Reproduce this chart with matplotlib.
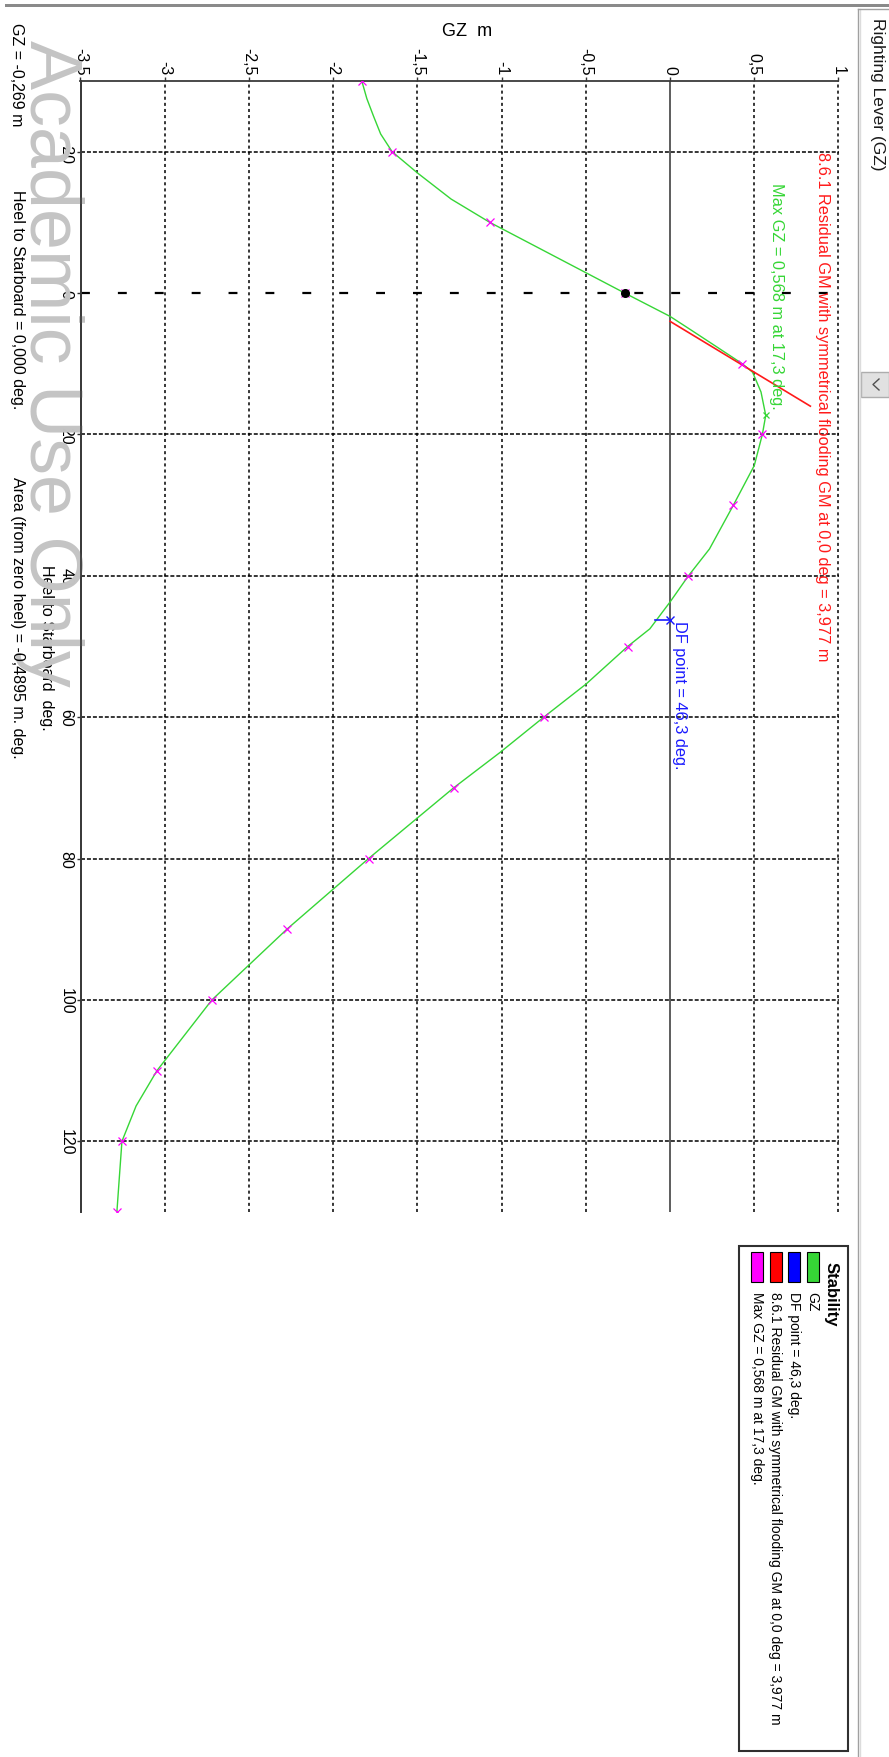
#!/usr/bin/env python3
"""Righting lever (GZ) curve, drawn in the rotated page layout of the stability report."""

import numpy as np
import matplotlib

matplotlib.use("Agg")
import matplotlib.pyplot as plt
from matplotlib.lines import Line2D
from matplotlib.patches import Rectangle

W, H = 889, 1758

# GZ at the tabulated heel stations (deg -> m)
HEEL_STATIONS = [-30, -20, -10, 0, 10, 20, 30, 40, 50, 60, 70, 80, 90, 100, 110, 120, 130]
GZ_STATIONS = [-1.83, -1.65, -1.07, -0.269, 0.429, 0.548, 0.376, 0.109, -0.252, -0.75,
               -1.285, -1.79, -2.275, -2.72, -3.046, -3.254, -3.284]

# extra points along the curve between stations
HEEL_EXTRA = [-27.5, -25, -22.5, -17, -13.3, 3.3, 5, 7.5, 11.2, 14, 17.3, 24.4, 36.2, 43.7,
              47.5, 55.3, 65, 115, 125.3]
GZ_EXTRA = [-1.80, -1.76, -1.718, -1.50, -1.30, 0.0, 0.11, 0.27, 0.49, 0.54, 0.568, 0.50,
            0.234, 0.0, -0.12, -0.498, -1.01, -3.17, -3.27]

MAX_HEEL, MAX_GZ = 17.3, 0.568
EQ_HEEL, EQ_GZ = 0.0, -0.269
DF_HEEL, DF_GZ = 46.3, -0.09
GM, GM_FROM, GM_TO = 3.977, 4.0, 16.0
AREA = -0.4895

GZ_TICKS = [-3.5, -3, -2.5, -2, -1.5, -1, -0.5, 0, 0.5, 1]
HEEL_TICKS = [-20, 0, 20, 40, 60, 80, 100, 120]

GREEN = "#36d636"
MAGENTA = "#ff00ff"
RED = "#ff1a1a"
BLUE = "#1a1aff"


def comma(v):
    return f"{v:g}".replace(".", ",")


def at(x, y):
    return x / W, 1 - y / H


def box(fig, x0, y0, x1, y1, **kw):
    fig.add_artist(Rectangle((x0 / W, 1 - y1 / H), (x1 - x0) / W, (y1 - y0) / H,
                             transform=fig.transFigure, **kw))


def pxline(fig, xs, ys, **kw):
    fig.add_artist(Line2D([x / W for x in xs], [1 - y / H for y in ys],
                          transform=fig.transFigure, **kw))


def vtext(fig, x, y, s, **kw):
    kw.setdefault("ha", "left")
    kw.setdefault("va", "center")
    return fig.text(*at(x, y), s, rotation=270, rotation_mode="anchor", **kw)


def main():
    plt.rcParams["font.family"] = ["Liberation Sans", "DejaVu Sans"]

    fig = plt.figure(figsize=(W / 100, H / 100), dpi=100)
    fig.patch.set_facecolor("white")

    left, right, top, bottom = 80.5, 838.5, 82, 1213
    ax = fig.add_axes([left / W, 1 - bottom / H, (right - left) / W, (bottom - top) / H])
    ax.set_facecolor("none")
    ax.set_xlim(-3.5, 1)
    ax.set_ylim(130, -30)

    for side in ("right", "bottom"):
        ax.spines[side].set_visible(False)
    for side in ("left", "top"):
        ax.spines[side].set_color("#3a3a3a")
        ax.spines[side].set_linewidth(1.3)

    ax.xaxis.tick_top()
    ax.set_xticks(GZ_TICKS)
    ax.set_xticklabels([comma(v) for v in GZ_TICKS], rotation=270)
    ax.set_yticks(HEEL_TICKS)
    ax.set_yticklabels([comma(v) for v in HEEL_TICKS], rotation=270, va="center")
    ax.tick_params(direction="out", length=3, width=1, color="#333333",
                   labelsize=11.5, labelcolor="black", pad=2)

    # grid: dashed verticals, dotted horizontals, special zero lines
    for g in GZ_TICKS[1:]:
        if g == 0:
            ax.axvline(g, color="#505050", lw=1.3, zorder=1)
        else:
            ax.axvline(g, color="black", lw=1.1, dashes=(2.0, 2.0), zorder=1)
    for h in HEEL_TICKS:
        if h == 0:
            ax.axhline(h, color="black", lw=1.6, dashes=(4.0, 12.6), zorder=1)
        else:
            ax.axhline(h, color="black", lw=1.1, dashes=(2.6, 1.3), zorder=1)

    # GZ curve
    pts = sorted(zip(HEEL_STATIONS + HEEL_EXTRA, GZ_STATIONS + GZ_EXTRA))
    heel_c = [p[0] for p in pts]
    gz_c = [p[1] for p in pts]
    ax.plot(gz_c, heel_c, color=GREEN, lw=1.0, zorder=3)
    ax.plot(GZ_STATIONS, HEEL_STATIONS, ls="none", marker="x", color=MAGENTA,
            ms=5.5, mew=0.9, zorder=4)

    # residual GM tangent
    gm_heel = np.array([GM_FROM, GM_TO])
    gm_gz = GM * np.radians(gm_heel - GM_FROM)
    ax.plot(gm_gz, gm_heel, color=RED, lw=1.2, zorder=3)

    # max GZ
    ax.plot([MAX_GZ], [MAX_HEEL], ls="none", marker="x", color=GREEN, ms=4.5, mew=0.9, zorder=4)

    # equilibrium point
    ax.plot([EQ_GZ], [EQ_HEEL], ls="none", marker="o", color="black", ms=5.5, zorder=5)

    # downflooding point
    ax.plot([DF_GZ, 0], [DF_HEEL, DF_HEEL], color=BLUE, lw=1.2, zorder=4)
    ax.plot([0], [DF_HEEL], ls="none", marker="x", color=BLUE, ms=5.5, mew=1.0, zorder=5)

    tkw = dict(rotation=270, rotation_mode="anchor", va="center", fontsize=11.8, zorder=6)
    ax.text(0.905, -20.1, f"8.6.1 Residual GM with symmetrical flooding GM at 0,0 deg = {comma(GM)} m",
            color=RED, ha="left", **tkw)
    ax.text(0.63, 16.4, f"Max GZ = {comma(MAX_GZ)} m at {comma(MAX_HEEL)} deg.",
            color=GREEN, ha="right", **tkw)
    ax.text(0.056, DF_HEEL, f"DF point = {comma(DF_HEEL)} deg.", color=BLUE, ha="left", **tkw)

    # axis titles
    fig.text(*at(467, 32), "GZ  m", ha="center", va="center", fontsize=13)
    vtext(fig, 46.5, 648, "Heel to Starboard  deg.", ha="center", fontsize=11.5)

    # watermark over the plot, axis line kept on top of it
    vtext(fig, 30, 40, "Academic Use Only", va="baseline", fontsize=53,
          color="#c4c4c4", zorder=5)
    fig.add_artist(Line2D([0, 0], [0, 1], transform=ax.transAxes, color="#3a3a3a",
                          lw=1.3, zorder=6))

    # readouts down the left edge
    vtext(fig, 17, 23, f"GZ = {comma(EQ_GZ)} m", fontsize=11.5, zorder=6)
    vtext(fig, 17, 190, f"Heel to Starboard = {EQ_HEEL:.3f} deg.".replace(".", ",", 1),
          fontsize=11.5, zorder=6)
    vtext(fig, 17, 477, f"Area (from zero heel) = {comma(AREA)} m. deg.", fontsize=11.5, zorder=6)

    # window chrome: top bar, side tab, scroll button
    box(fig, 5, 5, W, 8, facecolor="#8a8a8a", edgecolor="none")
    pxline(fig, [858, 858], [10, H], color="#a0a0a0", lw=1)
    pxline(fig, [860, 860], [10, H], color="#dcdcdc", lw=1)
    pxline(fig, [858, W], [10, 10], color="#a0a0a0", lw=1)
    vtext(fig, 877, 18, "Righting Lever (GZ)", fontsize=12.5, color="#1a1a1a")
    box(fig, 861, 373, 889, 398, facecolor="#e1e1e1", edgecolor="#adadad", lw=1)
    pxline(fig, [879, 873, 879], [380, 385.5, 391], color="#505050", lw=1)

    # legend
    box(fig, 739, 1247, 848, 1752, facecolor="white", edgecolor="#303030", lw=1.5)
    vtext(fig, 831, 1262, "Stability", fontsize=12, fontweight="bold")
    legend_items = [
        (GREEN, "GZ"),
        ("#0000ff", f"DF point = {comma(DF_HEEL)} deg."),
        ("#ff0000", f"8.6.1 Residual GM with symmetrical flooding GM at 0,0 deg = {comma(GM)} m"),
        (MAGENTA, f"Max GZ = {comma(MAX_GZ)} m at {comma(MAX_HEEL)} deg."),
    ]
    for i, (col, label) in enumerate(legend_items):
        xc = 813 - i * 18.6
        box(fig, xc - 6, 1253, xc + 6, 1283, facecolor=col, edgecolor="black", lw=0.8)
        vtext(fig, xc - 0.5, 1292, label, fontsize=10)

    fig.savefig("out.png", dpi=100)


if __name__ == "__main__":
    main()
